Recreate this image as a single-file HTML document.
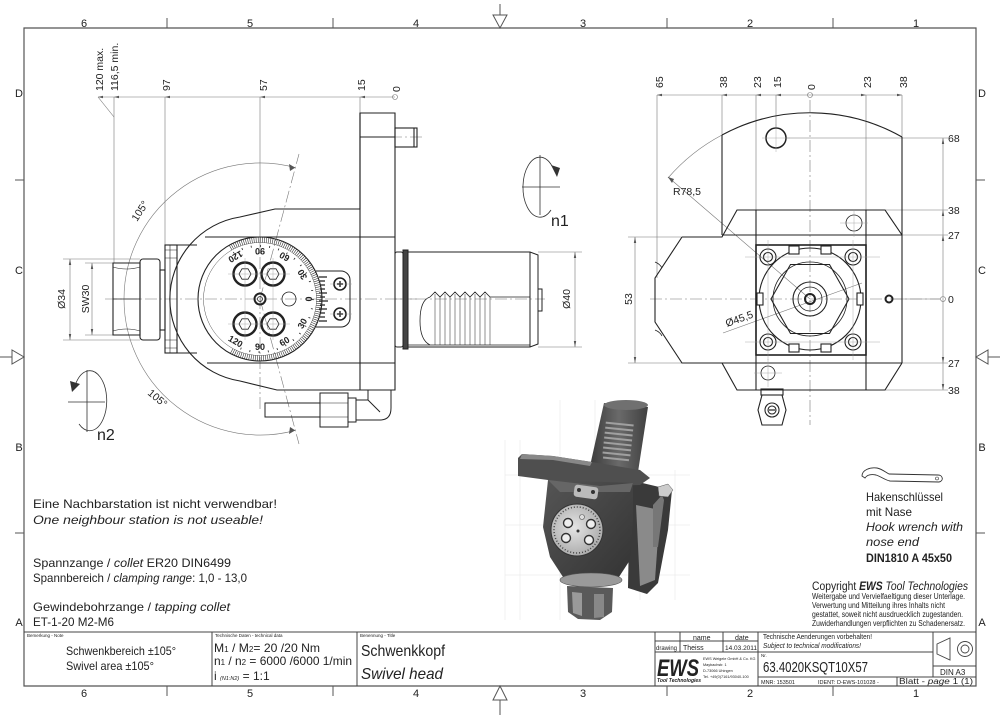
<!DOCTYPE html>
<html><head><meta charset="utf-8">
<style>
html,body{margin:0;padding:0;background:#fff;}
svg{display:block;}
text{font-family:"Liberation Sans","DejaVu Sans",sans-serif;fill:#222;}
.it{font-style:italic;}
</style></head>
<body>
<svg width="1000" height="715" viewBox="0 0 1000 715" xmlns="http://www.w3.org/2000/svg">
<rect width="1000" height="715" fill="#fff"/>

<!-- ================= FRAME ================= -->
<g stroke="#555" stroke-width="1.2" fill="none">
  <path d="M24 28 H976 V686 H24 Z"/>
</g>
<g stroke="#555" stroke-width="1" fill="none">
  <path d="M167 18V28 M333 18V28 M667 18V28 M833 18V28"/>
  <path d="M167 686V696 M333 686V696 M667 686V696 M833 686V696"/>
  <path d="M15 180H24 M15 533H24 M976 180H985 M976 533H985"/>
  <path d="M500 4V15 M500 700V715 M0 357H12 M988 357H1000"/>
  <polygon points="493,15 507,15 500,28"/>
  <polygon points="493,700 507,700 500,686"/>
  <polygon points="12,350 12,364 24,357"/>
  <polygon points="988,350 988,364 976,357"/>
</g>
<g font-size="11" fill="#555" text-anchor="middle">
  <text x="84" y="27" fill="#555">6</text><text x="250" y="27" fill="#555">5</text><text x="416" y="27" fill="#555">4</text>
  <text x="583" y="27" fill="#555">3</text><text x="750" y="27" fill="#555">2</text><text x="916" y="27" fill="#555">1</text>
  <text x="84" y="697" fill="#555">6</text><text x="250" y="697" fill="#555">5</text><text x="416" y="697" fill="#555">4</text>
  <text x="583" y="697" fill="#555">3</text><text x="750" y="697" fill="#555">2</text><text x="916" y="697" fill="#555">1</text>
  <text x="19" y="97" fill="#555">D</text><text x="19" y="274" fill="#555">C</text><text x="19" y="451" fill="#555">B</text><text x="19" y="626" fill="#555">A</text>
  <text x="982" y="97" fill="#555">D</text><text x="982" y="274" fill="#555">C</text><text x="982" y="451" fill="#555">B</text><text x="982" y="626" fill="#555">A</text>
</g>

<!-- ================= LEFT VIEW ================= -->
<!-- dimension lines -->
<g stroke="#777" stroke-width="0.6" fill="none">
  <path d="M98 97 H395"/>
  <path d="M98 97 L114 117"/>
  <path d="M114 97 V263 M165 97 V245 M360 97 V113"/>
  <path d="M260 97 V237"/>
  <circle cx="395" cy="97" r="2.5"/>
  <!-- 105 deg arcs -->
  <path d="M124 299 A136 136 0 0 1 295.2 167.6"/>
  <path d="M124 299 A136 136 0 0 0 295.2 430.4"/>
  <!-- Ø34 / SW30 -->
  <path d="M63 259 H140 M63 340 H140 M70 259 V340"/>
  <path d="M85 263 H113 M85 335 H113 M92 263 V335"/>
  <!-- Ø40 -->
  <path d="M538 252 H582 M538 347 H582 M575 252 V347"/>
</g>
<g fill="#555">
  <polygon points="98,97 103,95.8 103,98.2"/>
  <polygon points="114,97 119,95.8 119,98.2"/>
  <polygon points="165,97 170,95.8 170,98.2"/>
  <polygon points="260,97 265,95.8 265,98.2"/>
  <polygon points="360,97 365,95.8 365,98.2"/>
  <polygon points="70,259 68.8,265 71.2,265"/><polygon points="70,340 68.8,334 71.2,334"/>
  <polygon points="92,263 90.8,269 93.2,269"/><polygon points="92,335 90.8,329 93.2,329"/>
  <polygon points="575,252 573.8,258 576.2,258"/><polygon points="575,347 573.8,341 576.2,341"/>
  <polygon points="295.2,167.6 289,164 290,171"/>
  <polygon points="295.2,430.4 289,434 290,427"/>
</g>
<!-- center lines dash-dot -->
<g stroke="#777" stroke-width="0.6" fill="none" stroke-dasharray="12 3 2 3">
  <path d="M105 299 H420"/>
  <path d="M260 237 V410"/>
  <path d="M260 299 L299 154"/>
  <path d="M260 299 L299 444"/>
  <path d="M390 137 H422"/>
  <path d="M395 299 H545"/>
</g>
<g font-size="10.5">
  <text transform="translate(103,91) rotate(-90)">120 max.</text>
  <text transform="translate(118,91) rotate(-90)">116,5 min.</text>
  <text transform="translate(170,91) rotate(-90)">97</text>
  <text transform="translate(267,91) rotate(-90)">57</text>
  <text transform="translate(365,91) rotate(-90)">15</text>
  <text transform="translate(400,92) rotate(-90)">0</text>
  <text transform="translate(65,299) rotate(-90)" text-anchor="middle">Ø34</text>
  <text transform="translate(89,299) rotate(-90)" text-anchor="middle">SW30</text>
  <text transform="translate(570,299) rotate(-90)" text-anchor="middle">Ø40</text>
  <text transform="translate(137,222) rotate(-57)">105°</text>
  <text transform="translate(147,394) rotate(40)">105°</text>
</g>

<!-- body -->
<g stroke="#222" stroke-width="1.1" fill="none">
  <path d="M360 113 H395 V390 H277 L240 381 A83 83 0 0 1 240 217 L275 209 H360 Z"/>
  <path d="M360 113 V390"/>
  <path d="M360 137 H395 M360 237 H395 M360 363 H395"/>
  <path d="M205 237 H360 M207 363 H395"/>
  <!-- pin -->
  <rect x="395" y="128" width="22" height="19"/>
  <path d="M414 128 V147"/>
  <!-- nut side -->
  <path d="M113 263 H140 V335 H113 Z"/>
  <path d="M113 299 H140" stroke-width="0.7"/>
  <path d="M113 267 Q126 271 140 267 M113 331 Q126 327 140 331" stroke-width="0.6"/>
  <rect x="140" y="259" width="20" height="81" rx="3"/>
  <rect x="160" y="270" width="5" height="60"/>
  <rect x="165" y="245" width="12" height="108"/>
  <path d="M170 245 V353" stroke-width="0.6"/>
  <path d="M165 250 H177 M165 258 H177 M165 340 H177 M165 348 H177" stroke-width="0.6"/>
  <path d="M177 245 H197 M177 353 H197"/>
  <!-- dial -->
  <circle cx="260" cy="299" r="62"/>
</g>
<!-- dial ticks -->
<g fill="none" stroke="#222">
  <path d="M230.5 247.9 A59 59 0 1 1 230.5 350.1" stroke-width="5" stroke-dasharray="0.55 1.51"/>
  <path d="M233.5 253.0 A53 53 0 1 1 233.5 345.0" stroke-width="2" stroke-dasharray="0.8 8.45"/>
  <circle cx="260" cy="299" r="56.5" stroke-width="0.5" stroke="#555"/>
</g>
<g font-size="9" font-weight="bold" text-anchor="middle" dominant-baseline="central">
  <text transform="translate(309,299) rotate(-90)">0</text>
  <text transform="translate(302.4,274.5) rotate(-120)">30</text>
  <text transform="translate(284.5,256.6) rotate(-150)">60</text>
  <text transform="translate(260,251) rotate(180)">90</text>
  <text transform="translate(235.5,256.6) rotate(150)">120</text>
  <text transform="translate(302.4,323.5) rotate(-60)">30</text>
  <text transform="translate(284.5,341.4) rotate(-30)">60</text>
  <text transform="translate(260,347) rotate(0)">90</text>
  <text transform="translate(235.5,341.4) rotate(30)">120</text>
</g>
<!-- screws -->
<g stroke="#222" fill="none">
  <g transform="translate(245,274)"><circle r="11.5" stroke-width="2.4"/><polygon points="6,0 3,5.2 -3,5.2 -6,0 -3,-5.2 3,-5.2" stroke-width="0.8"/></g>
  <g transform="translate(273,274)"><circle r="11.5" stroke-width="2.4"/><polygon points="6,0 3,5.2 -3,5.2 -6,0 -3,-5.2 3,-5.2" stroke-width="0.8"/></g>
  <g transform="translate(245,324)"><circle r="11.5" stroke-width="2.4"/><polygon points="6,0 3,5.2 -3,5.2 -6,0 -3,-5.2 3,-5.2" stroke-width="0.8"/></g>
  <g transform="translate(273,324)"><circle r="11.5" stroke-width="2.4"/><polygon points="6,0 3,5.2 -3,5.2 -6,0 -3,-5.2 3,-5.2" stroke-width="0.8"/></g>
  <circle cx="260" cy="299" r="5.5" stroke-width="2"/>
  <circle cx="260" cy="299" r="2.5" stroke-width="0.8"/>
  <circle cx="289" cy="299" r="7" stroke-width="0.8"/>
  <path d="M228 274 H290 M228 324 H290 M245 258 V340 M273 258 V340" stroke="#999" stroke-width="0.4"/>
  <!-- vernier tab -->
  <path d="M316 271 H341 A9 9 0 0 1 350 280 V318 A9 9 0 0 1 341 327 H316" stroke-width="1"/>
  <path d="M319 277 H327 M320 281 H325 M320 285 H325 M320 289 H325 M319 293 H327 M320 297 H325 M319 301 H328 M320 305 H325 M319 309 H327 M320 313 H325 M320 317 H325 M319 321 H327" stroke-width="1.3"/>
  <g transform="translate(340,284)"><circle r="6" stroke-width="1.6"/><path d="M-3 0H3M0 -3V3" stroke-width="1.4"/></g>
  <g transform="translate(340,314)"><circle r="6" stroke-width="1.6"/><path d="M-3 0H3M0 -3V3" stroke-width="1.4"/></g>
  <path d="M330 284 H352 M330 314 H352" stroke="#999" stroke-width="0.4"/>
</g>
<!-- spindle shank -->
<g stroke="#222" stroke-width="1" fill="none">
  <rect x="395" y="252" width="8" height="95" rx="2"/>
  <rect x="403" y="250" width="5" height="99" fill="#444"/>
  <path d="M408 252 H530 L538 255 V344 L530 347 H408"/>
  <path d="M530 252 V347"/>
  <rect x="538" y="289" width="4" height="22"/>
  <path d="M530 297 H493 M530 345 H408" stroke-width="0.8"/>
  <path d="M430 297 L435 292 L440 297 L445 292 L450 297 L455 292 L460 297 L465 292 L470 297 L475 292 L480 297 L485 292 L490 297 L493 297" stroke-width="0.8"/>
  <path d="M430 297 Q420 300 420 321 Q420 340 430 345" stroke-width="0.8"/>
  <path d="M440 297V345 M450 297V345 M460 297V345 M470 297V345 M480 297V345 M490 297V345 M435 294V345 M445 294V345 M455 294V345 M465 294V345 M475 294V345 M485 294V345" stroke-width="0.5"/>
</g>
<!-- hose fitting -->
<g stroke="#222" stroke-width="1" fill="none">
  <rect x="265" y="403" width="55" height="14"/>
  <rect x="320" y="393" width="28" height="34"/>
  <path d="M320 403 H348 M320 417 H348" stroke-width="0.6"/>
  <rect x="348" y="398" width="8" height="24"/>
  <path d="M356 400 H368 L380 412 M356 420 H380 Q391 420 391 408 V390 M368 390 V400"/>
</g>
<!-- n1 / n2 rotation symbols -->
<g stroke="#333" stroke-width="0.8" fill="none">
  <path d="M522 187 H560 M540 155 V215"/>
  <path d="M552 166 A17 30 0 1 0 551 210"/>
  <path d="M68 402 H105 M87 370 V432"/>
  <path d="M76 383 A17 30 0 1 1 79 424"/>
</g>
<polygon points="551,165 560,168 557,177" fill="#333"/>
<polygon points="72,392 70,381 80,384" fill="#333"/>
<text x="551" y="226" font-size="16">n1</text>
<text x="97" y="440" font-size="16">n2</text>

<!-- ================= RIGHT VIEW ================= -->
<g stroke="#777" stroke-width="0.6" fill="none">
  <path d="M657 95 H902"/>
  <path d="M657 95 V278 M722 95 V135 M756 95 V210 M776 95 V128 M866 95 V210 M902 95 V137"/>
  <circle cx="810" cy="95" r="2.5"/>
  <path d="M943 138 V390"/>
  <path d="M786 138 H948 M885 210 H948 M902 235 H948 M892 299 H940 M902 363 H948 M885 390 H948"/>
  <circle cx="943" cy="299" r="2.5"/>
  <path d="M628 237 H682 M628 363 H682 M635 237 V363"/>
  <path d="M668 178 A186 186 0 0 1 722 135"/>
  <path d="M668 177 L810 299"/>
  <path d="M723 333 L862 283"/>
</g>
<g fill="#555">
  <polygon points="657,95 662,93.8 662,96.2"/>
  <polygon points="722,95 727,93.8 727,96.2"/>
  <polygon points="756,95 761,93.8 761,96.2"/>
  <polygon points="776,95 781,93.8 781,96.2"/>
  <polygon points="866,95 861,93.8 861,96.2"/>
  <polygon points="902,95 897,93.8 897,96.2"/>
  <polygon points="943,138 941.8,144 944.2,144"/>
  <polygon points="943,210 941.8,216 944.2,216"/>
  <polygon points="943,235 941.8,241 944.2,241"/>
  <polygon points="943,363 941.8,357 944.2,357"/>
  <polygon points="943,390 941.8,384 944.2,384"/>
  <polygon points="635,237 633.8,243 636.2,243"/>
  <polygon points="635,363 633.8,357 636.2,357"/>
  <polygon points="668,177 674,179 672,183"/>
</g>
<g stroke="#777" stroke-width="0.6" fill="none" stroke-dasharray="12 3 2 3">
  <path d="M650 299 H940"/>
  <path d="M810 100 V425"/>
</g>
<g font-size="10.5">
  <text transform="translate(663,88) rotate(-90)">65</text>
  <text transform="translate(727,88) rotate(-90)">38</text>
  <text transform="translate(761,88) rotate(-90)">23</text>
  <text transform="translate(781,88) rotate(-90)">15</text>
  <text transform="translate(815,90) rotate(-90)">0</text>
  <text transform="translate(871,88) rotate(-90)">23</text>
  <text transform="translate(907,88) rotate(-90)">38</text>
  <text x="948" y="142">68</text>
  <text x="948" y="214">38</text>
  <text x="948" y="239">27</text>
  <text x="948" y="303">0</text>
  <text x="948" y="367">27</text>
  <text x="948" y="394">38</text>
  <text transform="translate(632,299) rotate(-90)" text-anchor="middle">53</text>
  <text x="673" y="195">R78,5</text>
  <text transform="translate(727,327) rotate(-20)">Ø45,5</text>
</g>
<g stroke="#222" stroke-width="1.1" fill="none">
  <path d="M722 135 A186 186 0 0 1 902 137"/>
  <path d="M722 135 V235"/>
  <path d="M682 237 H722 L737 210 H885 L902 235"/>
  <path d="M722 363 L737 390 H885 L902 363"/>
  <path d="M682 237 L655 278 V322 L682 363 H722"/>
  <path d="M722 235 H902 M722 363 H902"/>
  <path d="M902 137 V363"/>
  <path d="M756 210 V390 M866 210 V390"/>
  <rect x="756" y="245" width="110" height="110" stroke-width="1.6"/>
  <path d="M655 262 Q660 264 662 268 M655 330 Q660 332 662 336" stroke-width="0.8"/>
  <circle cx="776" cy="138" r="10" stroke-width="1.5"/>
  <circle cx="854" cy="223" r="8" stroke-width="0.8"/>
  <circle cx="768" cy="373" r="7" stroke-width="0.8"/>
  <circle cx="889" cy="299" r="3.5" stroke-width="2"/>
  <circle cx="810" cy="299" r="51"/>
  <rect x="789" y="246" width="10" height="8" fill="#fff"/>
  <rect x="821" y="246" width="10" height="8" fill="#fff"/>
  <rect x="789" y="344" width="10" height="8" fill="#fff"/>
  <rect x="821" y="344" width="10" height="8" fill="#fff"/>
  <rect x="757" y="293" width="6" height="12" fill="#fff"/>
  <rect x="857" y="293" width="6" height="12" fill="#fff"/>
  <circle cx="768" cy="257" r="8"/><circle cx="768" cy="257" r="4.5"/>
  <circle cx="853" cy="257" r="8"/><circle cx="853" cy="257" r="4.5"/>
  <circle cx="768" cy="342" r="8"/><circle cx="768" cy="342" r="4.5"/>
  <circle cx="853" cy="342" r="8"/><circle cx="853" cy="342" r="4.5"/>
  <polygon points="771,299 790.5,264.5 829.5,264.5 849,299 829.5,333.5 790.5,333.5"/>
  <circle cx="810" cy="299" r="37" stroke-width="0.8"/>
  <circle cx="810" cy="299" r="17"/>
  <circle cx="810" cy="299" r="12" stroke-width="0.8"/>
  <circle cx="810" cy="299" r="5" stroke-width="2"/>
  <!-- bottom fitting -->
  <rect x="761" y="389" width="22" height="6"/>
  <polygon points="762,395 782,395 786,410 782,425 762,425 758,410"/>
  <circle cx="772" cy="410" r="7"/>
  <circle cx="772" cy="410" r="4"/>
  <path d="M769 410 H775" stroke-width="1.2"/>
</g>
<g stroke="#999" stroke-width="0.4" fill="none">
  <path d="M745 257 H880 M745 342 H880 M768 240 V360 M853 240 V360 M840 223 H868 M854 209 V237 M754 373 H782 M768 359 V387 M762 138 H790 M776 124 V152"/>
</g>

<!-- ================= 3D RENDER ================= -->
<g stroke="#e6e6e6" stroke-width="0.6" fill="none">
  <path d="M505 440 V620 M520 440 V620 M560 400 V620 M595 400 V620 M640 470 V600 M675 470 V600 M505 475 H690 M505 525 H690 M505 575 H690"/>
</g>
<defs>
  <linearGradient id="gS" x1="0" x2="1" y1="0" y2="0">
    <stop offset="0" stop-color="#3c3c3c"/><stop offset="0.5" stop-color="#6a6a6a"/><stop offset="1" stop-color="#404040"/>
  </linearGradient>
  <radialGradient id="gD" cx="0.45" cy="0.45" r="0.6">
    <stop offset="0" stop-color="#e4e4e4"/><stop offset="1" stop-color="#a8a8a8"/>
  </radialGradient>
  <linearGradient id="gB" x1="0" x2="1" y1="0" y2="1">
    <stop offset="0" stop-color="#555"/><stop offset="1" stop-color="#333"/>
  </linearGradient>
</defs>
<!-- right arm -->
<path d="M630 480 L672 490 L668 530 L658 583 L647 594 L628 588 Z" fill="#3a3a3a"/>
<path d="M636 505 L660 510 L655 580 L640 586 Z" fill="#8a8a8a"/>
<path d="M653 505 L662 495 L664 500 L658 547 L653 547 Z" fill="#777"/>
<path d="M658 487 L668 484 L673 490 L668 497 L659 496 Z" fill="#ccc" stroke="#555" stroke-width="0.5"/>
<!-- shank -->
<path d="M604 403 L648 407 L638 472 L590 466 Z" fill="url(#gS)"/>
<ellipse cx="626" cy="405" rx="22" ry="5" fill="#707070"/>
<g fill="#a0a0a0" transform="rotate(6 618 440)">
  <rect x="604" y="423" width="28" height="2"/><rect x="604" y="428" width="28" height="2"/>
  <rect x="604" y="433" width="28" height="2"/><rect x="604" y="438" width="28" height="2"/>
  <rect x="604" y="443" width="28" height="2"/><rect x="604" y="448" width="28" height="2"/>
  <rect x="604" y="453" width="28" height="2"/><rect x="605" y="458" width="26" height="2"/>
</g>
<!-- plate -->
<path d="M518 458 L522 454 L553 456 L592 462 L640 470 L650 478 L640 485 L600 486 L560 484 L548 480 L518 476 Z" fill="#4f4f4f"/>
<path d="M522 454 L553 456 L592 462 L590 466 L553 460 L520 459 Z" fill="#888"/>
<!-- main body -->
<path d="M548 480 L633 483 L633 520 L630 560 L617 580 L590 583 L563 577 L550 557 L543 527 Z" fill="url(#gB)"/>
<path d="M548 480 L600 486 L633 483 L630 492 L560 492 Z" fill="#666"/>
<!-- dial -->
<circle cx="577" cy="530" r="26" fill="url(#gD)" stroke="#333" stroke-width="1"/>
<circle cx="577" cy="530" r="23" fill="none" stroke="#444" stroke-width="1.5" stroke-dasharray="1 2"/>
<rect x="574" y="486" width="24" height="12" rx="3" fill="#bbb" transform="rotate(8 586 492)"/>
<circle cx="579" cy="490" r="2" fill="#333"/><circle cx="593" cy="492" r="2" fill="#333"/>
<g stroke="#333" stroke-width="1.4" fill="#eee">
  <circle cx="568" cy="523" r="4.5"/><circle cx="591" cy="524" r="4.5"/>
  <circle cx="566" cy="538" r="4.5"/><circle cx="589" cy="540" r="4.5"/>
</g>
<circle cx="582" cy="517" r="2.5" fill="#ddd" stroke="#555" stroke-width="0.6"/>
<circle cx="578" cy="531" r="1.5" fill="#333"/>
<!-- collet -->
<ellipse cx="591" cy="580" rx="31" ry="7" fill="#9a9a9a" stroke="#555" stroke-width="0.6"/>
<path d="M567 586 L613 588 L612 612 L600 620 L578 619 L568 612 Z" fill="#5a5a5a"/>
<path d="M572 592 L582 593 L582 616 L573 613 Z" fill="#9a9a9a"/>
<path d="M594 594 L604 594 L604 617 L594 618 Z" fill="#888"/>

<!-- ================= NOTES ================= -->
<g font-size="12">
  <text x="33" y="508" textLength="244" lengthAdjust="spacingAndGlyphs">Eine Nachbarstation ist nicht verwendbar!</text>
  <text x="33" y="524" class="it" textLength="230" lengthAdjust="spacingAndGlyphs">One neighbour station is not useable!</text>
  <text x="33" y="567" textLength="198" lengthAdjust="spacingAndGlyphs">Spannzange / <tspan class="it">collet</tspan>   ER20   DIN6499</text>
  <text x="33" y="582" textLength="214" lengthAdjust="spacingAndGlyphs">Spannbereich / <tspan class="it">clamping range</tspan>: 1,0 - 13,0</text>
  <text x="33" y="611" textLength="197" lengthAdjust="spacingAndGlyphs">Gewindebohrzange / <tspan class="it">tapping collet</tspan></text>
  <text x="33" y="626" textLength="81" lengthAdjust="spacingAndGlyphs">ET-1-20  M2-M6</text>
</g>
<!-- hook wrench -->
<path d="M862 476 C862 470 870 467 877 468 C882 469 885 472 889 474 L938 475 C943 475 944 481 939 482 L890 481 C885 480 882 477 876 475 C871 474 867 475 865 478 Z" fill="none" stroke="#333" stroke-width="0.9"/>
<circle cx="937" cy="478.5" r="1.5" fill="none" stroke="#333" stroke-width="0.6"/>
<g font-size="12">
  <text x="866" y="501" textLength="77" lengthAdjust="spacingAndGlyphs">Hakenschlüssel</text>
  <text x="866" y="516" textLength="46" lengthAdjust="spacingAndGlyphs">mit Nase</text>
  <text x="866" y="531" class="it" textLength="97" lengthAdjust="spacingAndGlyphs">Hook wrench with</text>
  <text x="866" y="546" class="it" textLength="53" lengthAdjust="spacingAndGlyphs">nose end</text>
  <text x="866" y="562" font-weight="bold" textLength="86" lengthAdjust="spacingAndGlyphs">DIN1810 A 45x50</text>
</g>
<text x="812" y="590" font-size="11.5" textLength="156" lengthAdjust="spacingAndGlyphs">Copyright <tspan font-weight="bold" class="it">EWS</tspan> <tspan class="it">Tool Technologies</tspan></text>
<g font-size="8">
  <text x="812" y="599" textLength="153" lengthAdjust="spacingAndGlyphs">Weitergabe und Vervielfaeltigung dieser Unterlage.</text>
  <text x="812" y="608" textLength="133" lengthAdjust="spacingAndGlyphs">Verwertung und Mitteilung ihres Inhalts nicht</text>
  <text x="812" y="617" textLength="151" lengthAdjust="spacingAndGlyphs">gestattet, soweit nicht ausdruecklich zugestanden.</text>
  <text x="812" y="626" textLength="153" lengthAdjust="spacingAndGlyphs">Zuwiderhandlungen verpflichten zu Schadenersatz.</text>
</g>

<!-- ================= TITLE BLOCK ================= -->
<g stroke="#444" stroke-width="1" fill="none">
  <path d="M24 632 H976"/>
  <path d="M212 632 V686 M357 632 V686 M655 632 V686 M758 632 V686 M933 632 V677"/>
  <path d="M655 641 H758 M655 652 H758 M680 632 V652 M723 632 V652"/>
  <path d="M758 652 H933 M758 677 H976 M933 666 H976 M897 677 V686"/>
  <polygon points="937,644 950,638 950,660 937,654" stroke-width="0.9"/>
  <circle cx="965" cy="649" r="7.5" stroke-width="0.9"/>
  <circle cx="965" cy="649" r="4" stroke-width="0.9"/>
</g>
<g font-size="4.5" fill="#444">
  <text x="27" y="637">Bemerkung - Note</text>
  <text x="215" y="637">Technische Daten - technical data</text>
  <text x="360" y="637">Benennung - Title</text>
  <text x="761" y="657">Nr.</text>
</g>
<g font-size="12">
  <text x="66" y="655" textLength="110" lengthAdjust="spacingAndGlyphs">Schwenkbereich ±105°</text>
  <text x="66" y="670" textLength="88" lengthAdjust="spacingAndGlyphs">Swivel area ±105°</text>
  <text x="214" y="652" textLength="106" lengthAdjust="spacingAndGlyphs">M<tspan font-size="8">1</tspan> / M<tspan font-size="8">2</tspan>= 20  /20  Nm</text>
  <text x="214" y="665" textLength="138" lengthAdjust="spacingAndGlyphs">n<tspan font-size="8">1</tspan> / n<tspan font-size="8">2</tspan> = 6000 /6000  1/min</text>
  <text x="214" y="680">i  <tspan font-size="5.5" class="it">(N1:N2)</tspan> = 1:1</text>
</g>
<text x="361" y="656" font-size="16" textLength="84" lengthAdjust="spacingAndGlyphs">Schwenkkopf</text>
<text x="361" y="679" font-size="16" class="it" textLength="82" lengthAdjust="spacingAndGlyphs">Swivel head</text>
<g font-size="7">
  <text x="693" y="640">name</text>
  <text x="735" y="640">date</text>
  <text x="656" y="650" font-size="6">drawing</text>
  <text x="683" y="650">Theiss</text>
  <text x="725" y="650" font-size="6.5">14.03.2011</text>
</g>
<text x="657" y="676" font-size="24" font-weight="bold" class="it" textLength="42" lengthAdjust="spacingAndGlyphs" fill="#111">EWS</text>
<text x="657" y="682" font-size="5.5" font-weight="bold" class="it" textLength="44" lengthAdjust="spacingAndGlyphs">Tool Technologies</text>
<g font-size="3.8" fill="#444">
  <text x="703" y="660">EWS Weigele GmbH &amp; Co. KG</text>
  <text x="703" y="666">Maybachstr. 1</text>
  <text x="703" y="672">D-73066 Uhingen</text>
  <text x="703" y="678">Tel. +49(0)7161/93040-100</text>
</g>
<text x="763" y="639" font-size="7.5" textLength="109" lengthAdjust="spacingAndGlyphs">Technische Aenderungen vorbehalten!</text>
<text x="763" y="648" font-size="7.5" class="it" textLength="98" lengthAdjust="spacingAndGlyphs">Subject to technical modifications!</text>
<text x="763" y="672" font-size="15" textLength="105" lengthAdjust="spacingAndGlyphs">63.4020KSQT10X57</text>
<text x="761" y="684" font-size="5.5">MNR: 153501</text>
<text x="818" y="684" font-size="5.5">IDENT: D-EWS-101028 -</text>
<text x="899" y="684" font-size="8" textLength="74" lengthAdjust="spacingAndGlyphs">Blatt - <tspan class="it">page</tspan>  1 (1)</text>
<text x="940" y="675" font-size="8">DIN A3</text>
</svg>
</body></html>
